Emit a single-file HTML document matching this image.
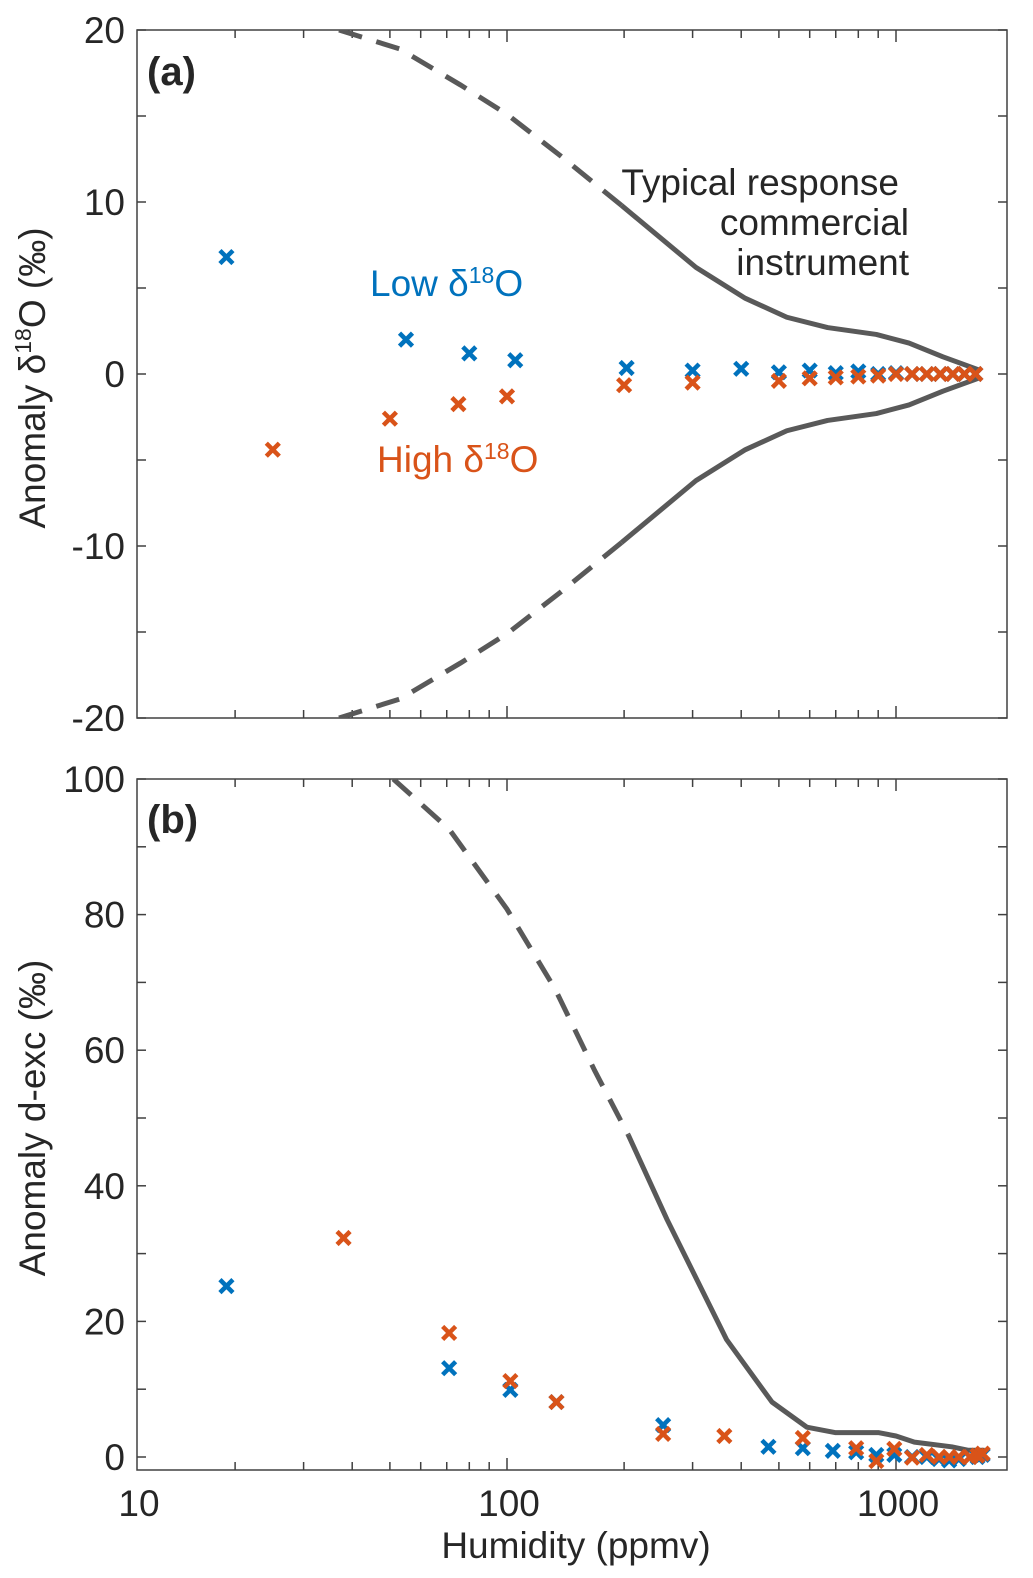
<!DOCTYPE html>
<html><head><meta charset="utf-8"><style>
html,body{margin:0;padding:0;background:#fff;}
svg{display:block;font-family:"Liberation Sans",Arial,sans-serif;}
</style></head><body>
<svg id="chart" width="1033" height="1578" viewBox="0 0 1033 1578" xmlns="http://www.w3.org/2000/svg">
<g id="layer"></g>
</svg>
<script>
const lowHumA = [19,55,80,105,203,300,400,500,600,700,800,900,1000,1100,1200,1300,1400,1500,1600];
const lowValA = [6.8,2.0,1.2,0.8,0.35,0.2,0.3,0.1,0.2,0.05,0.15,0,0.05,0,0,0,0,0,0];
const highHumA = [25,50,75,100,200,300,500,600,700,800,900,1000,1100,1200,1300,1400,1500,1600];
const highValA = [-4.4,-2.6,-1.75,-1.3,-0.65,-0.5,-0.4,-0.25,-0.2,-0.15,-0.1,0,0,0,0,0,0,0];
const curveHumA = [37,53,76,100,137,197,306,410,524,667,890,1080,1320,1650];
const curveValA = [20,18.9,16.8,15.1,12.7,9.8,6.2,4.4,3.3,2.7,2.3,1.8,1.0,0.2];
const curveHumB = [51,71,100,133,168,205,258,367,480,590,697,900,1000,1115,1390,1530,1690];
const curveValB = [100,92.6,80.8,69,57,47.5,35,17.3,8.1,4.4,3.6,3.6,3.1,2.2,1.5,1.0,1.0];
const lowHumB = [19,71,102,134,252,470,576,688,790,890,990,1100,1200,1290,1370,1450,1550,1620,1670];
const lowValB = [25.2,13.1,9.9,8.1,4.7,1.5,1.3,0.9,0.7,0.3,0.3,0,0,-0.3,-0.5,-0.3,0,0,0.3];
const highHumB = [38,71,102,134,252,362,576,790,890,990,1100,1200,1290,1370,1450,1550,1620,1670];
const highValB = [32.3,18.3,11.2,8.1,3.4,3.1,2.8,1.3,-0.6,1.2,-0.1,0.3,0,0,0,0,0.2,0.5];
const xTickVals = [10,100,1000];
const xTickLabels = ["10","100","1000"];
const yTicksA = [20,10,0,-10,-20];
const yTicksB = [100,80,60,40,20,0];
const dashLimit = 195;

const NS="http://www.w3.org/2000/svg";
const layer=document.getElementById('layer');
const L=137,R=1007;
function xpos(h){return 118+389*(Math.log10(h)-1);}
const A={top:30,bot:718,y:v=>374-v*17.2};
const B={top:779,bot:1470,y:v=>1457-v*6.78};
function mk(tag,attrs,parent){const e=document.createElementNS(NS,tag);for(const k in attrs)e.setAttribute(k,attrs[k]);(parent||layer).appendChild(e);return e;}
function txt(s,attrs,parent){const e=mk('text',attrs,parent);e.textContent=s;return e;}

function panel(P,name,yt,minorStep,minV,maxV){
  const g=mk('g',{});
  
  
  const f=mk('rect',{x:L,y:P.top,width:R-L,height:P.bot-P.top,fill:'none',stroke:'#404040','stroke-width':1.5},g);
  
  
  for(let v=minV;v<=maxV+1e-9;v+=minorStep){
    const y=P.y(v); if(y<P.top-1||y>P.bot+1)continue;
    mk('line',{x1:L,x2:L+9,y1:y,y2:y,stroke:'#404040','stroke-width':1.5},g);
    mk('line',{x1:R,x2:R-9,y1:y,y2:y,stroke:'#404040','stroke-width':1.5},g);
  }
  yt.forEach(v=>{
    const t=txt(String(v),{x:125,y:P.y(v)+13,'text-anchor':'end','font-size':37,fill:'#262626'},g);
    
    
  });
  for(let d=10;d<=1000;d*=10){for(let k=1;k<10;k++){const h=d*k;const x=xpos(h);if(x<=L+1||x>=R-1)continue;
    const len=(k==1)?12:8;
    mk('line',{x1:x,x2:x,y1:P.bot,y2:P.bot-len,stroke:'#404040','stroke-width':1.5},g);
    mk('line',{x1:x,x2:x,y1:P.top,y2:P.top+len,stroke:'#404040','stroke-width':1.5},g);}}
  return g;
}
function curve(P,hs,vs,name,sign){
  const pts=hs.map((h,i)=>[xpos(h),P.y(sign*vs[i]),h]);
  let k=pts.findIndex(p=>p[2]>=dashLimit);
  if(k<0)k=pts.length-1;
  const dashPts=pts.slice(0,k+1);
  const solidPts=pts.slice(k);
  const clip='url(#clip'+name.slice(0,1)+')';
  const d1=mk('polyline',{points:dashPts.map(p=>p[0]+','+p[1]).join(' '),fill:'none',stroke:'#595959','stroke-width':5,'stroke-dasharray':'24 15','clip-path':clip});
  
  
  const d2=mk('polyline',{points:solidPts.map(p=>p[0]+','+p[1]).join(' '),fill:'none',stroke:'#595959','stroke-width':5,'stroke-linejoin':'round','clip-path':clip});
  
  
}
function markers(P,hs,vs,color,name){
  hs.forEach((h,i)=>{const x=xpos(h),y=P.y(vs[i]),s=6.5;
    const p=mk('path',{d:`M${x-s},${y-s}L${x+s},${y+s}M${x-s},${y+s}L${x+s},${y-s}`,stroke:color,'stroke-width':4.5,fill:'none'});
    
    
  });
}
const defs=mk('defs',{});
const ca=mk('clipPath',{id:'clipa'},defs);mk('rect',{x:L,y:A.top,width:R-L,height:A.bot-A.top},ca);
const cb=mk('clipPath',{id:'clipb'},defs);mk('rect',{x:L,y:B.top,width:R-L,height:B.bot-B.top},cb);

panel(A,'panel-a',yTicksA,5,-20,20);
panel(B,'panel-b',yTicksB,10,0,100);

curve(A,curveHumA,curveValA,'a-response-upper',1);
curve(A,curveHumA,curveValA,'a-response-lower',-1);
curve(B,curveHumB,curveValB,'b-response',1);
markers(A,lowHumA,lowValA,'#0072BD','a-low-marker');
markers(A,highHumA,highValA,'#D95319','a-high-marker');
markers(B,lowHumB,lowValB,'#0072BD','b-low-marker');
markers(B,highHumB,highValB,'#D95319','b-high-marker');

xTickVals.forEach((v,i)=>{
  const x=Math.max(xpos(v),L);
  const t=txt(xTickLabels[i],{x:x+2,y:1516,'text-anchor':'middle','font-size':37,fill:'#262626'});
  
  
});

let t;
t=txt('Humidity (ppmv)',{x:576,y:1558,'text-anchor':'middle','font-size':37,fill:'#262626'});

t=mk('text',{x:0,y:0,transform:'translate(45,378) rotate(-90)','text-anchor':'middle','font-size':37,fill:'#262626'});
t.innerHTML='Anomaly δ<tspan font-size="23" dy="-14">18</tspan><tspan dy="14">O (‰)</tspan>';

t=txt('Anomaly d-exc (‰)',{transform:'translate(45,1118) rotate(-90)','text-anchor':'middle','font-size':37,fill:'#262626'});

t=txt('(a)',{x:147,y:85,'font-size':40,'font-weight':'bold',fill:'#262626'});

t=txt('(b)',{x:147,y:833,'font-size':40,'font-weight':'bold',fill:'#262626'});

t=mk('text',{x:370,y:296,'font-size':37,fill:'#0072BD'});
t.innerHTML='Low δ<tspan font-size="23" dy="-13">18</tspan><tspan dy="13">O</tspan>';

t=mk('text',{x:377,y:472,'font-size':37,fill:'#D95319'});
t.innerHTML='High δ<tspan font-size="23" dy="-13">18</tspan><tspan dy="13">O</tspan>';

const ann=[['Typical response',195,899],['commercial',235,909],['instrument',275,909]];
ann.forEach(a=>{const e=txt(a[0],{x:a[2],y:a[1],'text-anchor':'end','font-size':37,fill:'#262626'});
  
  });
</script>
</body></html>
